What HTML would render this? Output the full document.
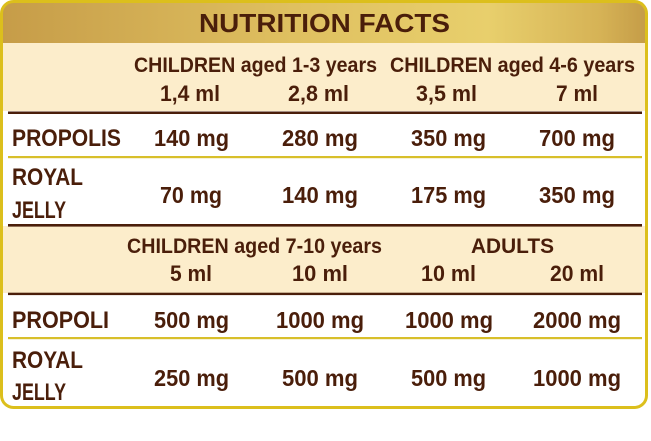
<!DOCTYPE html>
<html>
<head>
<meta charset="utf-8">
<style>
html,body{margin:0;padding:0;background:#fff;}
svg{display:block;}
text{font-family:"Liberation Sans",sans-serif;font-weight:bold;fill:#4a1e0a;}
</style>
</head>
<body>
<svg width="651" height="441" viewBox="0 0 651 441" xmlns="http://www.w3.org/2000/svg">
<defs>
<linearGradient id="hg" x1="0" y1="0" x2="1" y2="0">
<stop offset="0" stop-color="#c69c48"/>
<stop offset="0.45" stop-color="#dfc060"/>
<stop offset="0.75" stop-color="#e8cf6c"/>
<stop offset="0.92" stop-color="#d6b356"/>
<stop offset="1" stop-color="#c39a46"/>
</linearGradient>
<clipPath id="cp"><rect x="1.5" y="1.5" width="645" height="406" rx="12" ry="12"/></clipPath>
</defs>
<g clip-path="url(#cp)">
<rect x="0" y="0" width="651" height="441" fill="#ffffff"/>
<rect x="0" y="0" width="651" height="43" fill="url(#hg)"/>
<rect x="0" y="43" width="651" height="68" fill="#fcedcb"/>
<rect x="0" y="226" width="651" height="67" fill="#fcedcb"/>
</g>
<rect x="1.5" y="1.5" width="645" height="406" rx="12" ry="12" fill="none" stroke="#dcbf1c" stroke-width="3"/>

<!-- lines -->
<rect x="8" y="111.5" width="634" height="2.5" fill="#4a1e0a"/>
<rect x="8" y="156" width="634" height="2.2" fill="#d8bf2a"/>
<rect x="8" y="224" width="634" height="2.6" fill="#4a1e0a"/>
<rect x="8" y="292.7" width="634" height="2.4" fill="#4a1e0a"/>
<rect x="8" y="337" width="634" height="2.2" fill="#d8bf2a"/>

<!-- title -->
<text x="199" y="32" font-size="26" textLength="251" lengthAdjust="spacingAndGlyphs">NUTRITION FACTS</text>

<!-- upper header -->
<text x="134" y="72" font-size="21" textLength="243" lengthAdjust="spacingAndGlyphs">CHILDREN aged 1-3 years</text>
<text x="390" y="72" font-size="21" textLength="245" lengthAdjust="spacingAndGlyphs">CHILDREN aged 4-6 years</text>
<text x="160" y="101" font-size="22" textLength="60" lengthAdjust="spacingAndGlyphs">1,4 ml</text>
<text x="288" y="101" font-size="22" textLength="61" lengthAdjust="spacingAndGlyphs">2,8 ml</text>
<text x="416" y="101" font-size="22" textLength="61" lengthAdjust="spacingAndGlyphs">3,5 ml</text>
<text x="556" y="101" font-size="22" textLength="42" lengthAdjust="spacingAndGlyphs">7 ml</text>

<!-- row 1 -->
<text x="12" y="146" font-size="24" textLength="109" lengthAdjust="spacingAndGlyphs">PROPOLIS</text>
<text x="154" y="146" font-size="23" textLength="75" lengthAdjust="spacingAndGlyphs">140 mg</text>
<text x="282" y="146" font-size="23" textLength="76" lengthAdjust="spacingAndGlyphs">280 mg</text>
<text x="411" y="146" font-size="23" textLength="75" lengthAdjust="spacingAndGlyphs">350 mg</text>
<text x="539" y="146" font-size="23" textLength="76" lengthAdjust="spacingAndGlyphs">700 mg</text>

<!-- row 2 -->
<text x="12" y="185" font-size="24" textLength="71" lengthAdjust="spacingAndGlyphs">ROYAL</text>
<text x="12" y="218" font-size="24" textLength="54" lengthAdjust="spacingAndGlyphs">JELLY</text>
<text x="160" y="203" font-size="23" textLength="62" lengthAdjust="spacingAndGlyphs">70 mg</text>
<text x="282" y="203" font-size="23" textLength="76" lengthAdjust="spacingAndGlyphs">140 mg</text>
<text x="411" y="203" font-size="23" textLength="75" lengthAdjust="spacingAndGlyphs">175 mg</text>
<text x="539" y="203" font-size="23" textLength="76" lengthAdjust="spacingAndGlyphs">350 mg</text>

<!-- lower header -->
<text x="127" y="253" font-size="21" textLength="255" lengthAdjust="spacingAndGlyphs">CHILDREN aged 7-10 years</text>
<text x="471" y="253" font-size="21" textLength="83" lengthAdjust="spacingAndGlyphs">ADULTS</text>
<text x="170" y="281" font-size="22" textLength="42" lengthAdjust="spacingAndGlyphs">5 ml</text>
<text x="292" y="281" font-size="22" textLength="56" lengthAdjust="spacingAndGlyphs">10 ml</text>
<text x="421" y="281" font-size="22" textLength="55" lengthAdjust="spacingAndGlyphs">10 ml</text>
<text x="550" y="281" font-size="22" textLength="54" lengthAdjust="spacingAndGlyphs">20 ml</text>

<!-- row 3 -->
<text x="12" y="328" font-size="24" textLength="97" lengthAdjust="spacingAndGlyphs">PROPOLI</text>
<text x="154" y="328" font-size="23" textLength="75" lengthAdjust="spacingAndGlyphs">500 mg</text>
<text x="276" y="328" font-size="23" textLength="88" lengthAdjust="spacingAndGlyphs">1000 mg</text>
<text x="405" y="328" font-size="23" textLength="88" lengthAdjust="spacingAndGlyphs">1000 mg</text>
<text x="533" y="328" font-size="23" textLength="88" lengthAdjust="spacingAndGlyphs">2000 mg</text>

<!-- row 4 -->
<text x="12" y="368" font-size="24" textLength="71" lengthAdjust="spacingAndGlyphs">ROYAL</text>
<text x="12" y="400" font-size="24" textLength="54" lengthAdjust="spacingAndGlyphs">JELLY</text>
<text x="154" y="386" font-size="23" textLength="75" lengthAdjust="spacingAndGlyphs">250 mg</text>
<text x="282" y="386" font-size="23" textLength="76" lengthAdjust="spacingAndGlyphs">500 mg</text>
<text x="411" y="386" font-size="23" textLength="75" lengthAdjust="spacingAndGlyphs">500 mg</text>
<text x="533" y="386" font-size="23" textLength="88" lengthAdjust="spacingAndGlyphs">1000 mg</text>
</svg>
</body>
</html>
